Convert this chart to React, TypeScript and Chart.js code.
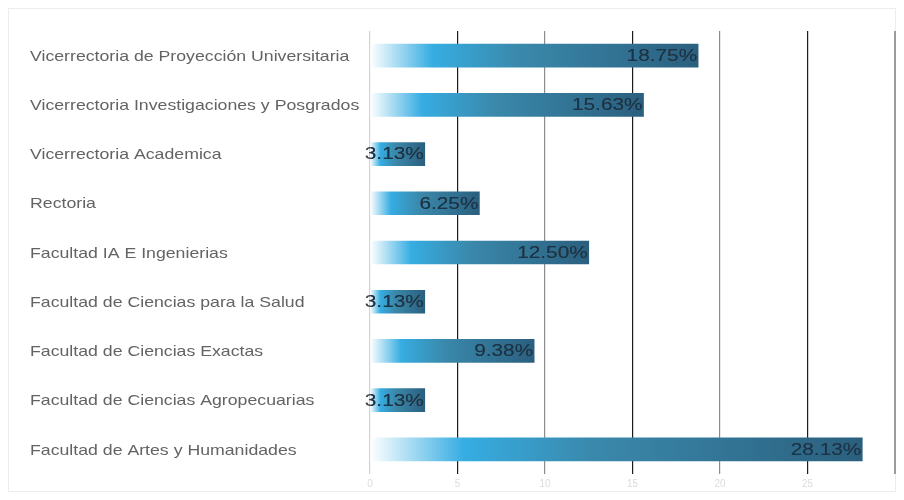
import React, { useEffect, useRef } from 'react';
import { Chart, registerables } from 'chart.js';

Chart.register(...registerables);

const categories = [
  'Vicerrectoria de Proyección Universitaria',
  'Vicerrectoria Investigaciones y Posgrados',
  'Vicerrectoria Academica',
  'Rectoria',
  'Facultad IA E Ingenierias',
  'Facultad de Ciencias para la Salud',
  'Facultad de Ciencias Exactas',
  'Facultad de Ciencias Agropecuarias',
  'Facultad de Artes y Humanidades',
];
const values = [18.75, 15.63, 3.13, 6.25, 12.5, 3.13, 9.38, 3.13, 28.13];
const valueLabels = ['18.75%', '15.63%', '3.13%', '6.25%', '12.50%', '3.13%', '9.38%', '3.13%', '28.13%'];
const xTicks = [0, 5, 10, 15, 20, 25, 30];

const FONT = '"Liberation Sans", Arial, sans-serif';

const valueLabelPlugin = {
  id: 'valueLabels',
  afterDatasetsDraw(chart: any) {
    const ctx = chart.ctx;
    const meta = chart.getDatasetMeta(0);
    meta.data.forEach((bar: any, i: number) => {
      const p = bar.getProps(['x', 'y', 'base', 'height'], true);
      const text = valueLabels[i];
      const draw = (color: string) => {
        ctx.save();
        ctx.translate(p.x - 1, p.y + 1);
        ctx.scale(1.3, 1);
        ctx.font = '16px ' + FONT;
        ctx.textAlign = 'right';
        ctx.textBaseline = 'middle';
        ctx.fillStyle = color;
        ctx.fillText(text, 0, 0);
        ctx.restore();
      };
      draw('#404040');
      ctx.save();
      ctx.beginPath();
      ctx.rect(p.base, p.y - p.height / 2, p.x - p.base, p.height);
      ctx.clip();
      draw('#17344a');
      ctx.restore();
    });
  },
};

const categoryLabelPlugin = {
  id: 'categoryLabels',
  afterDraw(chart: any) {
    const ctx = chart.ctx;
    const ys = chart.scales.y;
    categories.forEach((label, i) => {
      ctx.save();
      ctx.translate(ys.left, ys.getPixelForValue(i) + 1);
      ctx.scale(1.18, 1);
      ctx.font = '15px ' + FONT;
      ctx.textAlign = 'left';
      ctx.textBaseline = 'middle';
      ctx.fillStyle = '#636363';
      ctx.fillText(label, 0, 0);
      ctx.restore();
    });
  },
};

function gridColor(v: number) {
  if (v === 0) return '#d2d2d2';
  if (v === 30) return '#9c9c9c';
  if (v % 10 === 5) return '#1c1c1c';
  return '#8c8c8c';
}

export default function App() {
  const ref = useRef<HTMLCanvasElement | null>(null);
  useEffect(() => {
    if (!ref.current) return;
    const chart = new Chart(ref.current, {
      type: 'bar',
      data: {
        labels: categories,
        datasets: [
          {
            data: values,
            barThickness: 23,
            borderWidth: 0,
            backgroundColor: (c: any) => {
              const ch = c.chart;
              if (!ch.chartArea || c.type !== 'data') return '#3a88aa';
              const xs = ch.scales.x;
              const x0 = xs.getPixelForValue(0);
              const x1 = xs.getPixelForValue(c.parsed.x);
              const g = ch.ctx.createLinearGradient(x0, 0, x1, 0);
              g.addColorStop(0, '#ffffff');
              g.addColorStop(0.19, '#36ade2');
              g.addColorStop(0.45, '#3a89ac');
              g.addColorStop(1, '#2b5f7e');
              return g;
            },
          },
        ],
      },
      options: {
        indexAxis: 'y',
        animation: false,
        responsive: false,
        maintainAspectRatio: false,
        layout: { padding: { left: 22, right: 1, top: 23, bottom: -2 } },
        plugins: { legend: { display: false }, tooltip: { enabled: false } },
        scales: {
          x: {
            min: 0,
            max: 30,
            afterBuildTicks: (s: any) => {
              s.ticks = xTicks.map((v) => ({ value: v }));
            },
            afterFit: (s: any) => {
              s.paddingRight = 0;
              s.paddingLeft = 0;
            },
            grid: {
              drawTicks: false,
              color: (c: any) => gridColor(c.tick ? c.tick.value : 0),
              lineWidth: (c: any) => (c.tick && c.tick.value === 30 ? 3 : 1.2),
            },
            border: { display: false },
            ticks: {
              padding: 4,
              color: '#dcdcdc',
              font: { size: 10, family: FONT },
              callback: (v: any) => (v === 30 ? '' : String(v)),
            },
          },
          y: {
            afterFit: (s: any) => {
              s.width = 340;
            },
            grid: { display: false },
            border: { display: false },
            ticks: { display: false },
          },
        },
      },
      plugins: [valueLabelPlugin, categoryLabelPlugin],
    });
    return () => chart.destroy();
  }, []);
  return (
    <div style={{ width: 888, height: 484, boxShadow: 'inset 0 0 0 1px #ececec' }}>
      <canvas ref={ref} width={888} height={484} style={{ display: 'block' }} />
    </div>
  );
}
